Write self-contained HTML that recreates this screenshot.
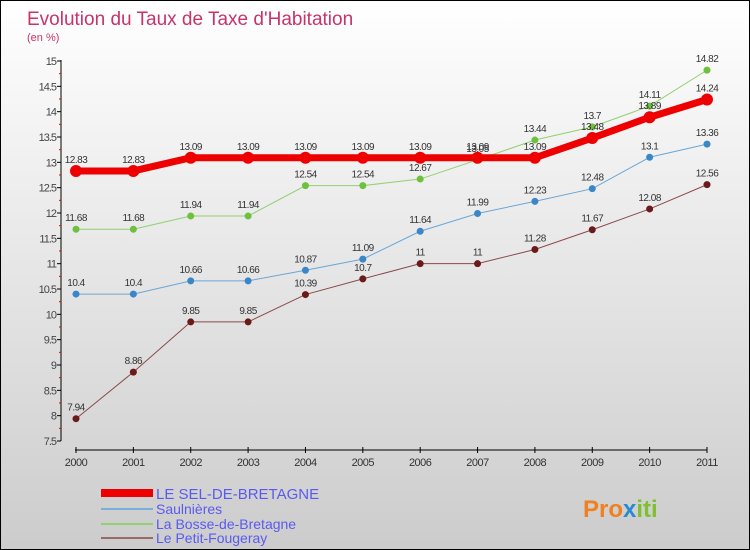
<!DOCTYPE html>
<html><head><meta charset="utf-8"><style>
body{margin:0}
#c{width:748px;height:548px;border:1px solid #000;background:linear-gradient(#fff,#ccc);position:relative;font-family:"Liberation Sans",sans-serif;overflow:hidden}
</style></head><body>
<div id="c">
<svg id="s" width="748" height="548" xmlns="http://www.w3.org/2000/svg" style="position:absolute;left:0;top:0">
<text x="26" y="24" font-size="19" fill="#c8336a">Evolution du Taux de Taxe d'Habitation</text>
<text x="26" y="40" font-size="11" fill="#c8336a">(en %)</text>
<line x1="60" y1="59" x2="60" y2="440" stroke="#000"/>
<line x1="74" y1="449" x2="706" y2="449" stroke="#000"/>
<g id="g"></g>
<rect x="100" y="488" width="52" height="8" fill="#e00"/>
<text x="155" y="498" font-size="15" fill="#5a5af0">LE SEL-DE-BRETAGNE</text>
<rect x="100" y="507" width="52" height="2" fill="#7ab0d8"/>
<text x="155" y="513" font-size="14" fill="#5a5af0">Saulnières</text>
<rect x="100" y="522" width="52" height="2" fill="#90d070"/>
<text x="155" y="528" font-size="14" fill="#5a5af0">La Bosse-de-Bretagne</text>
<rect x="100" y="536" width="52" height="2" fill="#9a6a6a"/>
<text x="155" y="542" font-size="14" fill="#5a5af0">Le Petit-Fougeray</text>
<text x="582" y="516" font-size="24" font-weight="bold" fill="#f08020">Pro<tspan fill="#2a8ad0">x</tspan><tspan fill="#80c030">iti</tspan></text>
</svg>
</div>
<script>
const years=[2000,2001,2002,2003,2004,2005,2006,2007,2008,2009,2010,2011];
const yTicks=[7.5,8,8.5,9,9.5,10,10.5,11,11.5,12,12.5,13,13.5,14,14.5,15];
const sel=[12.83,12.83,13.09,13.09,13.09,13.09,13.09,13.09,13.09,13.48,13.89,14.24];
const saul=[10.4,10.4,10.66,10.66,10.87,11.09,11.64,11.99,12.23,12.48,13.1,13.36];
const bosse=[11.68,11.68,11.94,11.94,12.54,12.54,12.67,13.05,13.44,13.7,14.11,14.82];
const petit=[7.94,8.86,9.85,9.85,10.39,10.7,11,11,11.28,11.67,12.08,12.56];
const NS="http://www.w3.org/2000/svg";
const g=document.getElementById('g');
function X(i){return 75+i*(706-75)/11;}
function Y(v){return 440-(v-7.5)*(380/7.5);}
function mk(t,a){const e=document.createElementNS(NS,t);for(const k in a)e.setAttribute(k,a[k]);g.appendChild(e);return e;}
yTicks.forEach((v,i)=>{
 const t=mk('line',{x1:56,x2:60,y1:Y(v),y2:Y(v),stroke:'#000'});
 
 
 const lb=mk('text',{x:55,y:Y(v)+4,'font-size':11,'text-anchor':'end',fill:'#444','letter-spacing':'-1'});
 lb.textContent=v;
 
 
 if(i<yTicks.length-1){const m=mk('line',{x1:58,x2:60,y1:Y(v+0.25),y2:Y(v+0.25),stroke:'#e00'});
 
 }
});
years.forEach((yr,i)=>{
 const t=mk('line',{x1:X(i),x2:X(i),y1:446,y2:452,stroke:'#000'});
 
 
 const lb=mk('text',{x:X(i),y:465,'font-size':11,'text-anchor':'middle',fill:'#333','letter-spacing':'-0.5'});
 lb.textContent=yr;
 
 
});
function series(arr,color,dot,w,r,name){
 const p=mk('polyline',{points:arr.map((v,i)=>X(i)+','+Y(v)).join(' '),fill:'none',stroke:color,'stroke-width':w});
 
 
 arr.forEach((v,i)=>{
  const c=mk('circle',{cx:X(i),cy:Y(v),r:r,fill:dot});
  
  
  const t=mk('text',{x:X(i),y:Y(v)-8,'font-size':10,'text-anchor':'middle',fill:'#333','letter-spacing':'-0.5'});
  t.textContent=v;
  
  
 });
}
series(petit,'#8a4a4a','#6a1a1a',1,3.5,'petit-fougeray');
series(saul,'#6aa6d6','#3a86c6',1,3.5,'saulnieres');
series(bosse,'#90d070','#70c040',1,3.5,'bosse-de-bretagne');
series(sel,'#ee0000','#ee0000',7,6,'sel-de-bretagne');
</script>
</body></html>
